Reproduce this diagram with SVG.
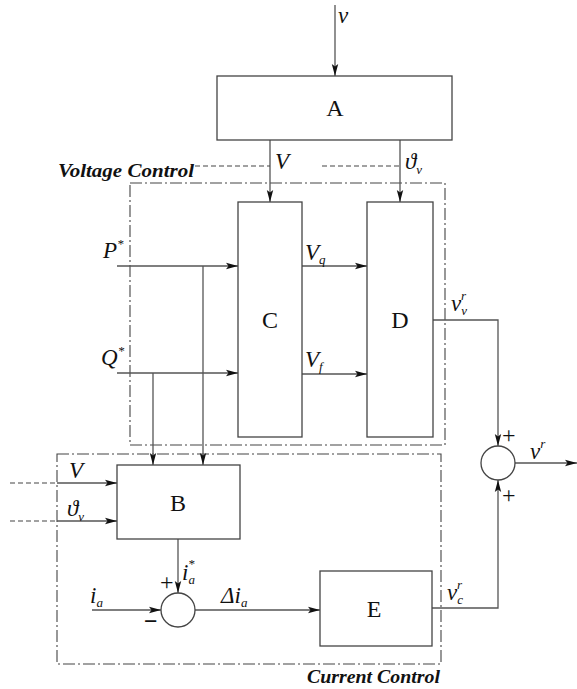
<svg xmlns="http://www.w3.org/2000/svg" width="577" height="689" viewBox="0 0 577 689">
<style>
.box{fill:#fff;stroke:#444;stroke-width:1.3}
.ln{fill:none;stroke:#555;stroke-width:1.3}
.dash{fill:none;stroke:#444;stroke-width:1.1;stroke-dasharray:5 3}
.dd{fill:none;stroke:#444;stroke-width:1.1;stroke-dasharray:12 3 2 3}
.lbl{font-family:"Liberation Serif",serif;font-size:24px;fill:#111}
.it{font-family:"Liberation Serif",serif;font-style:italic;font-size:23px;fill:#111}
.sub{font-size:13px}
.ctl{font-family:"Liberation Serif",serif;font-style:italic;font-weight:bold;font-size:19px;fill:#111}
</style>
<defs>
<marker id="ar" markerUnits="userSpaceOnUse" markerWidth="14" markerHeight="8" refX="12" refY="4" orient="auto">
<path d="M0,0.8 L12,4 L0,7.2 L2.5,4 z" fill="#111"/>
</marker>
</defs>
<rect width="577" height="689" fill="#fff"/>
<g id="regions">
<rect class="dd" x="130" y="183" width="315" height="262"/>
<rect class="dd" x="57" y="454" width="384" height="210"/>
<text class="ctl" x="58" y="177" textLength="136" lengthAdjust="spacingAndGlyphs">Voltage Control</text>
<text class="ctl" x="307" y="683" textLength="133" lengthAdjust="spacingAndGlyphs">Current Control</text>
</g>
<g id="connectors">
<line class="ln" x1="335" y1="5" x2="335" y2="76" marker-end="url(#ar)"/>
<line class="ln" x1="270" y1="140" x2="270" y2="202" marker-end="url(#ar)"/>
<line class="ln" x1="400" y1="140" x2="400" y2="202" marker-end="url(#ar)"/>
<line class="dash" x1="195" y1="166" x2="270" y2="166"/>
<line class="dash" x1="322" y1="166" x2="400" y2="166"/>
<line class="ln" x1="117" y1="266" x2="238" y2="266" marker-end="url(#ar)"/>
<line class="ln" x1="117" y1="373" x2="238" y2="373" marker-end="url(#ar)"/>
<line class="ln" x1="203" y1="266" x2="203" y2="465" marker-end="url(#ar)"/>
<line class="ln" x1="153" y1="373" x2="153" y2="465" marker-end="url(#ar)"/>
<line class="ln" x1="302" y1="266" x2="367" y2="266" marker-end="url(#ar)"/>
<line class="ln" x1="302" y1="374" x2="367" y2="374" marker-end="url(#ar)"/>
<polyline class="ln" points="433,320 498,320 498,446" marker-end="url(#ar)"/>
<polyline class="ln" points="432,608 498,608 498,480" marker-end="url(#ar)"/>
<line class="ln" x1="515" y1="463" x2="577" y2="463" marker-end="url(#ar)"/>
<line class="dash" x1="10" y1="483" x2="57" y2="483"/>
<line class="ln" x1="57" y1="483" x2="117" y2="483" marker-end="url(#ar)"/>
<line class="dash" x1="10" y1="521" x2="57" y2="521"/>
<line class="ln" x1="57" y1="521" x2="117" y2="521" marker-end="url(#ar)"/>
<line class="ln" x1="178" y1="539" x2="178" y2="593" marker-end="url(#ar)"/>
<line class="ln" x1="92" y1="610" x2="161" y2="610" marker-end="url(#ar)"/>
<line class="ln" x1="195" y1="610" x2="320" y2="610" marker-end="url(#ar)"/>
</g>
<g id="A"><rect class="box" x="217" y="76" width="235" height="64"/><text class="lbl" x="335" y="116" text-anchor="middle">A</text></g>
<g id="C"><rect class="box" x="238" y="202" width="64" height="235"/><text class="lbl" x="270" y="328" text-anchor="middle">C</text></g>
<g id="D"><rect class="box" x="367" y="202" width="66" height="235"/><text class="lbl" x="400" y="328" text-anchor="middle">D</text></g>
<g id="B"><rect class="box" x="117" y="465" width="123" height="74"/><text class="lbl" x="178" y="511" text-anchor="middle">B</text></g>
<g id="E"><rect class="box" x="320" y="571" width="112" height="75"/><text class="lbl" x="374" y="617" text-anchor="middle">E</text></g>
<g id="sum1"><circle class="box" cx="178" cy="610" r="17"/></g>
<g id="sum2"><circle class="box" cx="498" cy="463" r="17"/></g>
<g id="labels">
<text class="it" x="338" y="23" font-size="28">v</text>
<text class="it" x="275" y="169">V</text>
<text class="it" x="405" y="169">ϑ<tspan class="sub" dy="5">v</tspan></text>
<text class="it" x="103" y="258">P<tspan class="sub" dy="-10">*</tspan></text>
<text class="it" x="101" y="365">Q<tspan class="sub" dy="-10">*</tspan></text>
<text class="it" x="305" y="260">V<tspan class="sub" dy="4">q</tspan></text>
<text class="it" x="305" y="367">V<tspan class="sub" dy="4">f</tspan></text>
<text class="it" x="451" y="311">v<tspan class="sub" dy="4">v</tspan><tspan class="sub" dx="-6" dy="-15">r</tspan></text>
<text class="it" x="447" y="600">v<tspan class="sub" dy="4">c</tspan><tspan class="sub" dx="-6" dy="-15">r</tspan></text>
<text class="it" x="530" y="459">v<tspan class="sub" dy="-11">r</tspan></text>
<text class="lbl" x="502" y="443">+</text>
<text class="lbl" x="502" y="503">+</text>
<text class="it" x="69" y="478">V</text>
<text class="it" x="67" y="516">ϑ<tspan class="sub" dy="5">v</tspan></text>
<text class="it" x="182" y="580">i<tspan class="sub" dy="4">a</tspan><tspan class="sub" dx="-7" dy="-16">*</tspan></text>
<text class="lbl" x="160" y="590">+</text>
<text class="lbl" x="144" y="629" font-weight="bold">−</text>
<text class="it" x="90" y="603">i<tspan class="sub" dy="4">a</tspan></text>
<text class="it" x="221" y="603">Δi<tspan class="sub" dy="4">a</tspan></text>
</g>
</svg>
